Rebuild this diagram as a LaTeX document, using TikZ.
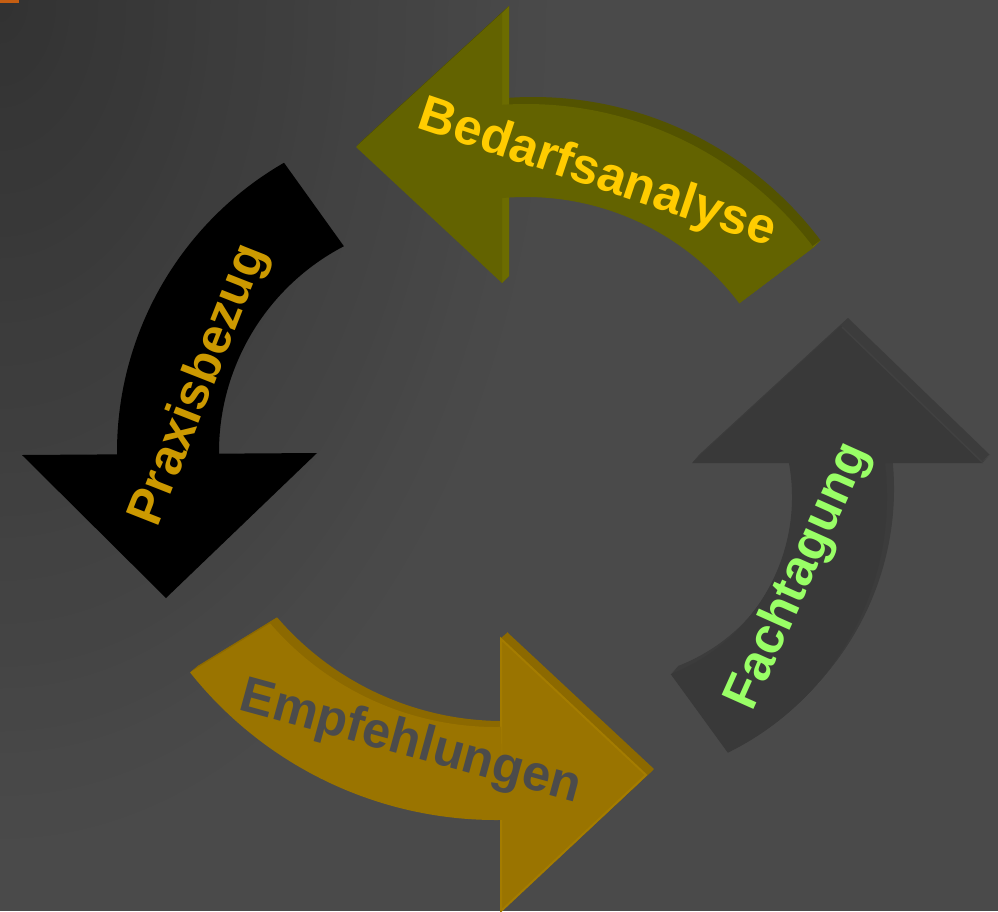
\documentclass[tikz,border=0pt]{standalone}
\usepackage{fontspec}
\setmainfont{Liberation Sans}
\definecolor{bgmain}{HTML}{4A4A4A}
\definecolor{bgdark}{HTML}{323232}
\definecolor{olivefront}{HTML}{636300}
\definecolor{oliveside}{HTML}{535300}
\definecolor{olivelight}{HTML}{6C6C00}
\definecolor{goldfront}{HTML}{9A7400}
\definecolor{goldside}{HTML}{8C6900}
\definecolor{goldlight}{HTML}{A47C00}
\definecolor{grayfront}{HTML}{393939}
\definecolor{grayside}{HTML}{3C3C3C}
\definecolor{graylight}{HTML}{414141}
\definecolor{txtyellow}{HTML}{FFCC00}
\definecolor{txtgold}{HTML}{CC9900}
\definecolor{txtgray}{HTML}{4B4B4B}
\definecolor{txtgreen}{HTML}{99FF66}
\definecolor{orangebar}{HTML}{C55E12}
% curved shaft: dx, dy, cx, cy, r outer, r inner, tail angle outer, tail angle inner, head angle
\newcommand{\arrband}[9]{({#3+#1+#5*cos(#7)},{#4+#2+#5*sin(#7)}) arc[start angle=#7,end angle=#9,radius=#5] -- ({#3+#1+#6*cos(#9)},{#4+#2+#6*sin(#9)}) arc[start angle=#9,end angle=#8,radius=#6] -- cycle}
% arrow head triangle: dx, dy, x1, y1, x2, y2, x3, y3
\newcommand{\arrhead}[8]{({#3+#1},{#4+#2}) -- ({#5+#1},{#6+#2}) -- ({#7+#1},{#8+#2}) -- cycle}
\tikzset{
  lbl/.style={font=\bfseries\fontsize{50.5}{60}\selectfont, anchor=base, inner sep=0pt}
}
\begin{document}
\begin{tikzpicture}[x=1pt,y=1pt]
\useasboundingbox (0,0) rectangle (998,-911);
% background: base colour, darker towards the top-left corner
\fill[bgmain] (0,0) rectangle (998,-911);
\begin{scope}
  \clip (0,0) rectangle (998,-911);
  \foreach \i in {0,...,40} {
    \pgfmathsetmacro\rr{1-\i/40}
    \pgfmathtruncatemacro\pp{100*\rr}
    \fill[color=bgmain!\pp!bgdark] (0,0) ellipse [x radius={560*\rr+0.01}, y radius={860*\rr+0.01}];
  }
\end{scope}
\fill[orangebar] (0,0) rectangle (19,-3);

% ---- Bedarfsanalyse (olive, pointing left)
\foreach \k in {1,...,7} {
  \fill[oliveside] \arrband{\k}{\k}{526}{-464}{360}{267}{37}{37}{96};
  \fill[oliveside] \arrhead{\k}{\k}{502}{-13}{356}{-147}{502}{-283};
}
\fill[olivelight] (502,-13) -- (509,-6) -- (509,-276) -- (502,-283) -- cycle;
\fill[olivelight] (813.5,-247.3) -- (820.5,-240.3) -- (746.2,-296.3) -- (739.2,-303.3) -- cycle;
\fill[olivefront] \arrhead{0}{0}{502}{-13}{356}{-147}{502}{-283};
\fill[olivefront] \arrband{0}{0}{526}{-464}{360}{267}{37}{37}{96};

% ---- Praxisbezug (black, pointing down)
\fill[black] \arrhead{0}{0}{22}{-455}{166}{-598}{317}{-453};
\fill[black] \arrband{0}{0}{451}{-452}{334}{232}{120}{117.5}{181};

% ---- Empfehlungen (gold, pointing right)
\foreach \k in {1,...,7} {
  \fill[goldside] \arrband{\k}{6/7*\k}{496}{-429}{391}{298}{218.5}{220.7}{271};
  \fill[goldside] \arrhead{\k}{6/7*\k}{500}{-638}{647}{-775}{500}{-912};
}
\fill[goldfront, draw=goldlight, line width=2pt, line join=miter] \arrhead{0}{0}{501}{-639}{646}{-775}{501}{-911};
\fill[goldfront] \arrband{0}{0}{496}{-429}{391}{298}{218.5}{220.7}{271};

% ---- Fachtagung (dark gray, pointing up)
\foreach \k in {1,...,7} {
  \fill[grayside] \arrband{\k}{8/7*\k}{602}{-497}{285}{190}{-63.8}{-68.8}{12};
  \fill[grayside] \arrhead{\k}{8/7*\k}{692}{-463}{841}{-326}{983}{-463};
}
\fill[grayfront] \arrhead{0}{0}{692}{-463}{841}{-326}{983}{-463};
\draw[graylight, line width=1.5pt] (842,-327) -- (982,-462);
\fill[grayfront] \arrband{0}{0}{602}{-497}{285}{190}{-63.8}{-68.8}{12};

% ---- labels
\node[lbl, text=txtyellow, rotate=-18.5] (tBedarf) at (593,-187) {Bedarfsanalyse};
\node[lbl, text=txtgold, rotate=68.5] (tPraxis) at (212,-390) {Praxisbezug};
\node[lbl, text=txtgray, rotate=-15.3] (tEmpf) at (407,-756) {Empfehlungen};
\node[lbl, text=txtgreen, rotate=65.9] (tFach) at (811,-582) {Fachtagung};
\end{tikzpicture}
\end{document}
